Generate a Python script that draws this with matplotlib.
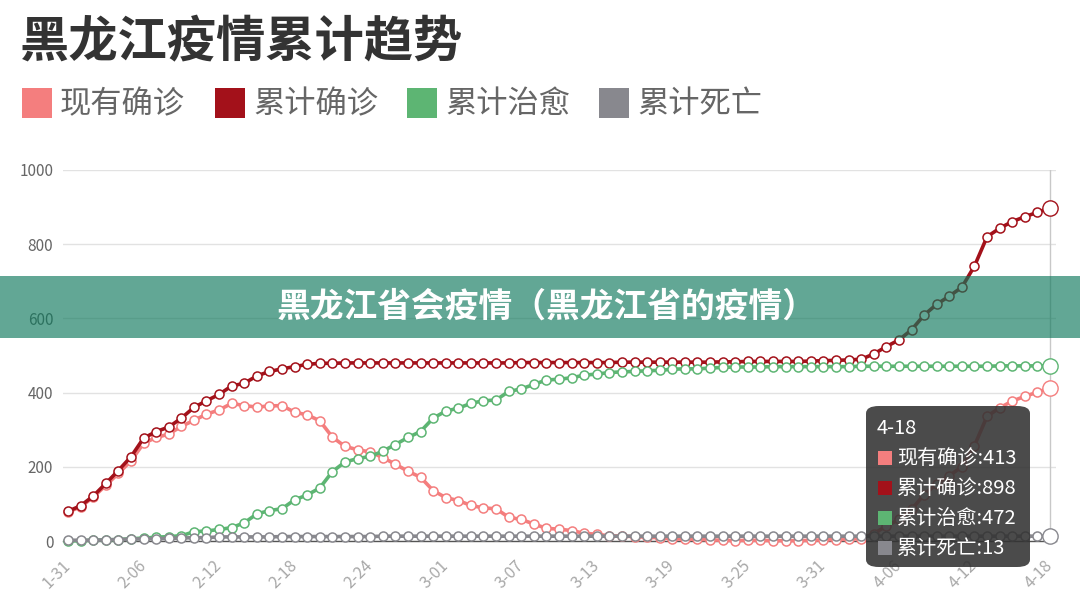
import matplotlib
matplotlib.use("Agg")
import matplotlib.pyplot as plt
from matplotlib.patches import Rectangle, FancyBboxPatch

plt.rcParams['font.family'] = ['Noto Sans CJK SC', 'DejaVu Sans']

W, H = 1080, 614

# x axis: 1-31 .. 4-18 (one point per day)
tickLabels = ['1-31', '2-06', '2-12', '2-18', '2-24', '3-01', '3-07',
              '3-13', '3-19', '3-25', '3-31', '4-06', '4-12', '4-18']
lastDay = '4-18'

seriesNames = ['现有确诊', '累计确诊', '累计治愈', '累计死亡']

existing = [78, 92, 118, 150, 182, 216, 263, 279, 288, 309,
            325, 342, 353, 371, 365, 361, 364, 365, 347, 340,
            324, 280, 255, 246, 240, 225, 207, 188, 172, 136,
            117, 109, 96, 89, 87, 64, 58, 46, 34, 32,
            28, 21, 18, 14, 13, 12, 10, 9, 6, 5,
            5, 3, 2, 1, 2, 2, 1, 1, 1, 2,
            3, 4, 5, 6, 20, 40, 58, 85, 125, 154,
            176, 200, 257, 336, 359, 377, 390, 401, 413]

confirmed = [80, 95, 121, 155, 190, 227, 277, 295, 307, 331,
             360, 378, 395, 418, 425, 445, 457, 464, 470, 476,
             479, 479, 480, 480, 480, 480, 480, 480, 480, 480,
             480, 480, 480, 480, 480, 480, 481, 481, 481, 481,
             481, 481, 481, 481, 482, 482, 482, 482, 482, 482,
             482, 482, 483, 483, 484, 484, 484, 484, 484, 485,
             486, 487, 488, 490, 504, 524, 542, 569, 609, 638,
             660, 684, 741, 820, 843, 861, 874, 886, 898]

recovered = [0, 1, 2, 3, 4, 6, 8, 10, 12, 14,
             25, 27, 31, 36, 49, 73, 82, 87, 111, 124,
             143, 187, 213, 222, 228, 242, 260, 279, 295, 331,
             350, 358, 371, 378, 380, 403, 410, 422, 434, 436,
             440, 447, 450, 454, 456, 457, 459, 460, 463, 464,
             464, 466, 468, 469, 469, 469, 470, 470, 470, 470,
             470, 470, 470, 471, 471, 471, 471, 471, 471, 471,
             471, 471, 471, 471, 472, 472, 472, 472, 472]

deaths = [2, 2, 2, 3, 4, 5, 6, 6, 7, 8,
          9, 9, 11, 11, 11, 11, 11, 12, 12, 12,
          12, 12, 12, 12, 12, 13, 13, 13, 13, 13] + [13] * 49

colors = ['#f47e7e', '#a3111a', '#5db573', '#88888e']


def fx(px):
    return px / W


def fy(py):
    return 1 - py / H


fig = plt.figure(figsize=(W / 100, H / 100), dpi=100)
fig.patch.set_facecolor('white')

# plot area: idx 0 at x=68, idx 78 at x=1050, value 0 at y=541, 1000 at y=170
left, right = 63, 1056
ax = fig.add_axes([fx(left), fy(541), (right - left) / W, (541 - 170) / H])
step = (1050 - 68) / 78
ax.set_xlim(-(68 - left) / step, 78 + (right - 1050) / step)
ax.set_ylim(0, 1000)

for s in ['top', 'right', 'left']:
    ax.spines[s].set_visible(False)
ax.spines['bottom'].set_color('#555555')
ax.spines['bottom'].set_linewidth(1.0)

ax.set_yticks(range(0, 1001, 200))
ax.yaxis.grid(True, color='#e2e2e2', linewidth=1.0)
ax.set_axisbelow(True)
ax.tick_params(axis='y', length=0, pad=7, labelsize=11, labelcolor='#666666')

ax.set_xticks(range(0, 79, 6))
ax.set_xticklabels(tickLabels, rotation=45, ha='right', va='center',
                   rotation_mode='anchor')
ax.tick_params(axis='x', length=0, pad=16, labelsize=11.5, labelcolor='#a8a8a8')

# axis pointer at last day
ax.axvline(78, color='#c8c8c8', linewidth=1.0, zorder=1)

days = list(range(len(confirmed)))
allSeries = [existing, confirmed, recovered, deaths]
for i, (vals, col) in enumerate(zip(allSeries, colors)):
    ax.plot(days, vals, color=col, linewidth=2.6, marker='o', markersize=6.5,
            markerfacecolor='white', markeredgecolor=col, markeredgewidth=1.1,
            clip_on=False, zorder=3 + i)
    ax.plot(days[-1], vals[-1], 'o', markersize=11, markerfacecolor='white',
            markeredgecolor=col, markeredgewidth=1.0, clip_on=False, zorder=8)

# title
fig.text(fx(20), fy(43), '黑龙江疫情累计趋势', fontsize=35.5, fontweight='bold',
         color='#333333', va='center', ha='left')

# legend
legendX = [22, 215, 407, 599]
for name, col, lx in zip(seriesNames, colors, legendX):
    fig.patches.append(Rectangle((fx(lx), fy(118)), 30 / W, 30 / H,
                                 transform=fig.transFigure, facecolor=col,
                                 edgecolor='none'))
    fig.text(fx(lx + 38), fy(104), name, fontsize=22.5, color='#666666',
             va='center', ha='left')

# tooltip
tip = FancyBboxPatch((fx(866), fy(567)), (1030 - 866) / W, (567 - 406) / H,
                     boxstyle='round,pad=0,rounding_size=0.012',
                     transform=fig.transFigure, facecolor='#323232',
                     edgecolor='none', alpha=0.88, zorder=10)
fig.patches.append(tip)
fig.text(fx(877), fy(428), lastDay, fontsize=14.5, color='white',
         va='center', ha='left', zorder=11)
rowsY = [458, 488, 518, 548]
for name, vals, col, ry in zip(seriesNames, allSeries, colors, rowsY):
    fig.patches.append(Rectangle((fx(878), fy(ry + 7)), 14 / W, 14 / H,
                                 transform=fig.transFigure, facecolor=col,
                                 edgecolor='none', zorder=11))
    fig.text(fx(897), fy(ry), f'{name}:{vals[-1]}', fontsize=14.5,
             color='white', va='center', ha='left', zorder=11)

# overlay banner
fig.patches.append(Rectangle((0, fy(338)), 1, 62 / H,
                             transform=fig.transFigure,
                             facecolor=(14 / 255, 120 / 255, 92 / 255),
                             alpha=0.65, edgecolor='none', zorder=12))
fig.text(fx(547), fy(306), '黑龙江省会疫情（黑龙江省的疫情）', fontsize=24.3,
         fontweight='heavy', color='white', va='center', ha='center', zorder=13)

fig.savefig('out.png', dpi=100)
